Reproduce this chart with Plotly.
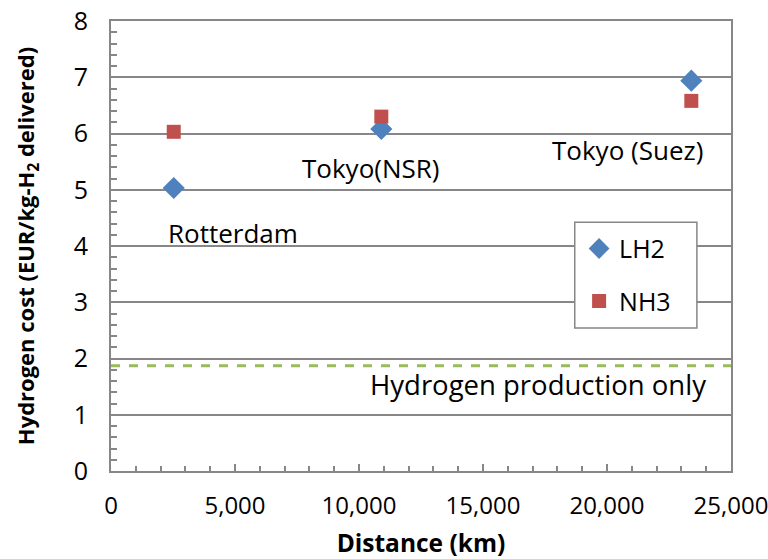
import plotly.graph_objects as go

# Delivery routes and their shipping distance (km)
routes = ["Rotterdam", "Tokyo(NSR)", "Tokyo (Suez)"]
distance_km = [2530, 10900, 23400]

# Delivered hydrogen cost (EUR/kg-H2) per carrier
lh2_cost = [5.03, 6.08, 6.94]
nh3_cost = [6.03, 6.30, 6.58]

# Cost of hydrogen production alone
production_only = 1.87

# Route label positions (x in km, y in EUR/kg)
label_x = [2230, 10500, 20830]
label_y = [4.24, 5.38, 5.70]
label_anchor = ["left", "center", "center"]

FONT = "Open Sans"
GRID = "#878787"

fig = go.Figure()

fig.add_trace(go.Scatter(
    x=distance_km, y=lh2_cost, mode="markers", name="LH2",
    legendgroup="lh2",
    marker=dict(symbol="diamond", size=17, color="#4F81BD"),
))
fig.add_trace(go.Scatter(
    x=distance_km, y=nh3_cost, mode="markers", name="NH3",
    legendgroup="nh3",
    marker=dict(symbol="square", size=14, color="#C0504D"),
))

# Production-only reference line
fig.add_shape(type="line", xref="paper", yref="y", x0=0, x1=1,
              y0=production_only, y1=production_only,
              line=dict(color="#9BBB59", width=3, dash="dash"))

# Framed white panel behind the legend entries
fig.add_shape(type="rect", xref="paper", yref="paper",
              x0=0.748, x1=0.945, y0=0.318, y1=0.553, layer="above",
              fillcolor="white", line=dict(color=GRID, width=1.5))

for name, lx, ly, anc in zip(routes, label_x, label_y, label_anchor):
    fig.add_annotation(x=lx, y=ly, text=name, showarrow=False,
                       xanchor=anc, yanchor="middle",
                       font=dict(family=FONT, size=26, color="black"))

fig.add_annotation(x=17230, y=1.54, text="Hydrogen production only",
                   showarrow=False, xanchor="center", yanchor="middle",
                   font=dict(family=FONT, size=27.5, color="black"))

fig.update_layout(
    width=768, height=559,
    margin=dict(l=111, r=37, t=21, b=88),
    paper_bgcolor="white", plot_bgcolor="white",
    font=dict(family=FONT, size=24, color="black"),
    showlegend=True,
    legend=dict(
        x=0.755, y=0.545, xanchor="left", yanchor="top",
        bgcolor="rgba(0,0,0,0)", borderwidth=0,
        font=dict(family=FONT, size=25, color="black"),
        traceorder="grouped", tracegroupgap=17,
        itemsizing="trace",
    ),
    xaxis=dict(
        range=[0, 25000], dtick=5000, tickformat=",d", automargin=False,
        showgrid=False, zeroline=False,
        showline=True, linecolor=GRID, linewidth=2, mirror=True,
        ticks="inside", ticklen=7, tickcolor=GRID, tickwidth=1.5,
        minor=dict(dtick=1000, ticks="inside", ticklen=5,
                   tickcolor=GRID, tickwidth=1.5, showgrid=False),
        ticklabelstandoff=12, ticklabeloverflow="allow",
        tickfont=dict(family=FONT, size=24),
        title=dict(text="<b>Distance (km)</b>", standoff=16,
                   font=dict(family=FONT, size=24.5)),
    ),
    yaxis=dict(
        range=[0, 8], dtick=1, automargin=False,
        showgrid=True, gridcolor=GRID, gridwidth=1.5, zeroline=False,
        showline=True, linecolor=GRID, linewidth=2, mirror=True,
        ticks="inside", ticklen=7, tickcolor=GRID, tickwidth=1.5,
        minor=dict(dtick=0.2, ticks="inside", ticklen=6,
                   tickcolor=GRID, tickwidth=1.5, showgrid=False),
        ticklabelstandoff=16,
        tickfont=dict(family=FONT, size=25),
        title=dict(text="<b>Hydrogen cost (EUR/kg-H<sub>2</sub> delivered)</b>",
                   standoff=33, font=dict(family=FONT, size=22)),
    ),
)

fig.write_html("out.html")
